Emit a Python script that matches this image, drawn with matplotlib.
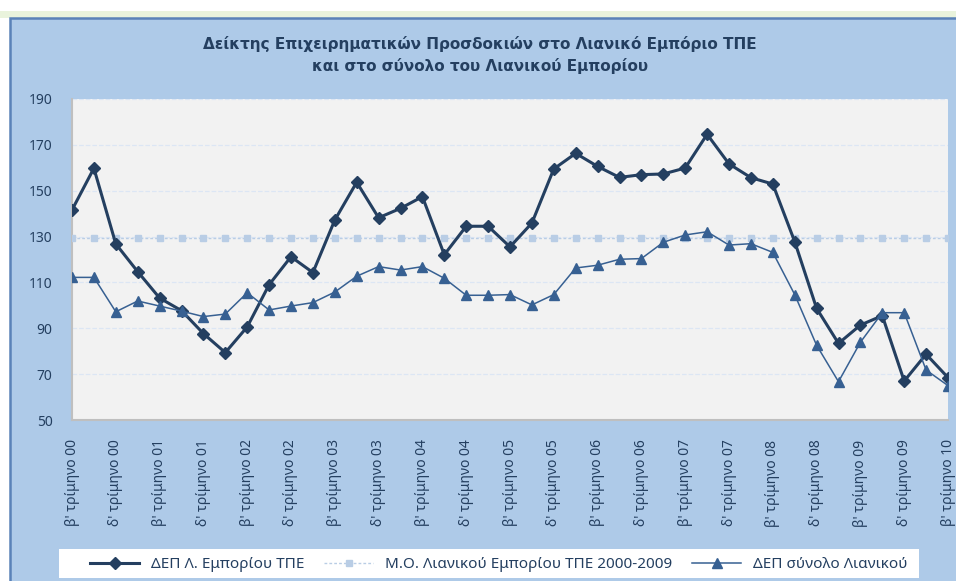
import numpy as np
import matplotlib
matplotlib.use("Agg")
import matplotlib.pyplot as plt
from matplotlib.patches import Rectangle

plt.rcParams["font.family"] = ["Noto Sans", "DejaVu Sans"]

# Δεδομένα (τριμηνιαία, β' τρίμηνο 2000 - β' τρίμηνο 2010)
dep_tpe = [141.6, 159.8, 126.8, 114.7, 103.2, 97.7, 87.7, 79.4, 90.6, 109.0,
           121.2, 114.3, 137.2, 153.7, 138.2, 142.3, 147.4, 122.1, 134.5, 134.5,
           125.5, 135.9, 159.5, 166.3, 160.6, 155.8, 157.0, 157.3, 159.9, 174.6,
           161.7, 155.7, 152.9, 127.8, 98.7, 83.4, 91.4, 95.5, 67.0, 78.7, 68.5]
dep_total = [112.2, 112.2, 97.2, 101.9, 99.7, 97.5, 95.1, 96.2, 105.5, 98.0,
             99.7, 101.2, 105.8, 112.7, 116.9, 115.4, 116.9, 111.8, 104.4, 104.4,
             104.7, 100.2, 104.7, 116.3, 117.5, 120.1, 120.4, 127.5, 130.7, 132.1,
             126.3, 126.9, 123.1, 104.7, 82.6, 66.7, 83.9, 96.8, 96.8, 71.8, 65.0]
avg_tpe = 129.3

years = ["00", "00", "01", "01", "02", "02", "03", "03", "04", "04", "05",
         "05", "06", "06", "07", "07", "08", "08", "09", "09", "10"]
quarters = ["β'", "δ'"] * 10 + ["β'"]
tick_labels = [f"{q} τρίμηνο {y}" for q, y in zip(quarters, years)]

x = np.arange(len(dep_tpe))
W, H = 956, 581

fig = plt.figure(figsize=(W / 100, H / 100), dpi=100, facecolor="white")

# Φόντο / πλαίσιο γραφήματος
fig.patches.append(Rectangle((0, (H - 18) / H), 1, 7 / H, transform=fig.transFigure,
                             facecolor="#E9F3DC", edgecolor="none", zorder=-2))
fig.patches.append(Rectangle((10 / W, -0.01), 1, (H - 18) / H + 0.01,
                             transform=fig.transFigure, facecolor="#AECAE8",
                             edgecolor="#5A82B8", linewidth=1.8, zorder=-1))

ax = fig.add_axes([72 / W, (H - 420) / H, (948 - 72) / W, (420 - 99) / H])
ax.set_zorder(1)
ax.set_facecolor("#F2F2F2")

navy = "#243F60"
l1, = ax.plot(x, dep_tpe, color=navy, lw=2.2, marker="D", ms=6,
              label="ΔΕΠ Λ. Εμπορίου ΤΠΕ", zorder=4)
l2, = ax.plot(x, [avg_tpe] * len(x), color="#B9CDE5", lw=1.0, ls=(0, (2, 1.5)),
              marker="s", ms=4.5, label="Μ.Ο. Λιανικού Εμπορίου ΤΠΕ 2000-2009", zorder=3)
l3, = ax.plot(x, dep_total, color="#376092", lw=1.1, marker="^", ms=7,
              label="ΔΕΠ σύνολο Λιανικού", zorder=5)

ax.set_xlim(0, len(x) - 1)
ax.set_ylim(50, 190)
ax.set_yticks(range(50, 191, 20))
ax.set_xticks(x[::2])
ax.set_xticklabels(tick_labels, rotation=90, va="top", ha="center")
ax.tick_params(axis="both", length=0, labelsize=10, labelcolor=navy)
ax.tick_params(axis="x", pad=14)
ax.tick_params(axis="y", pad=14)
ax.grid(axis="y", color="#DCE6F4", ls="--", lw=0.9)
ax.set_axisbelow(True)
for s in ["top", "right"]:
    ax.spines[s].set_visible(False)
for s in ["left", "bottom"]:
    ax.spines[s].set_color("#BFBFBF")
    ax.spines[s].set_linewidth(1.5)

fig.text(480 / W, 1 - 55 / H,
         "Δείκτης Επιχειρηματικών Προσδοκιών στο Λιανικό Εμπόριο ΤΠΕ\nκαι στο σύνολο του Λιανικού Εμπορίου",
         ha="center", va="center", fontsize=11, fontweight="bold", color=navy,
         linespacing=1.45, family=["DejaVu Sans"], zorder=3)

# λευκό πλαίσιο υπομνήματος
fig.patches.append(Rectangle((59 / W, 3 / H), (919 - 59) / W, 29 / H,
                             transform=fig.transFigure, facecolor="white",
                             edgecolor="none", zorder=2))
leg = fig.legend(handles=[l1, l2, l3], loc="lower left", ncol=3,
                 bbox_to_anchor=(84 / W, 3 / H, (914 - 84) / W, 29 / H),
                 mode="expand", fontsize=11, frameon=False,
                 handlelength=3.2, borderaxespad=0, borderpad=0.4)
leg.set_zorder(3)
for t in leg.get_texts():
    t.set_color(navy)

fig.savefig("out.png", dpi=100, facecolor="white")
